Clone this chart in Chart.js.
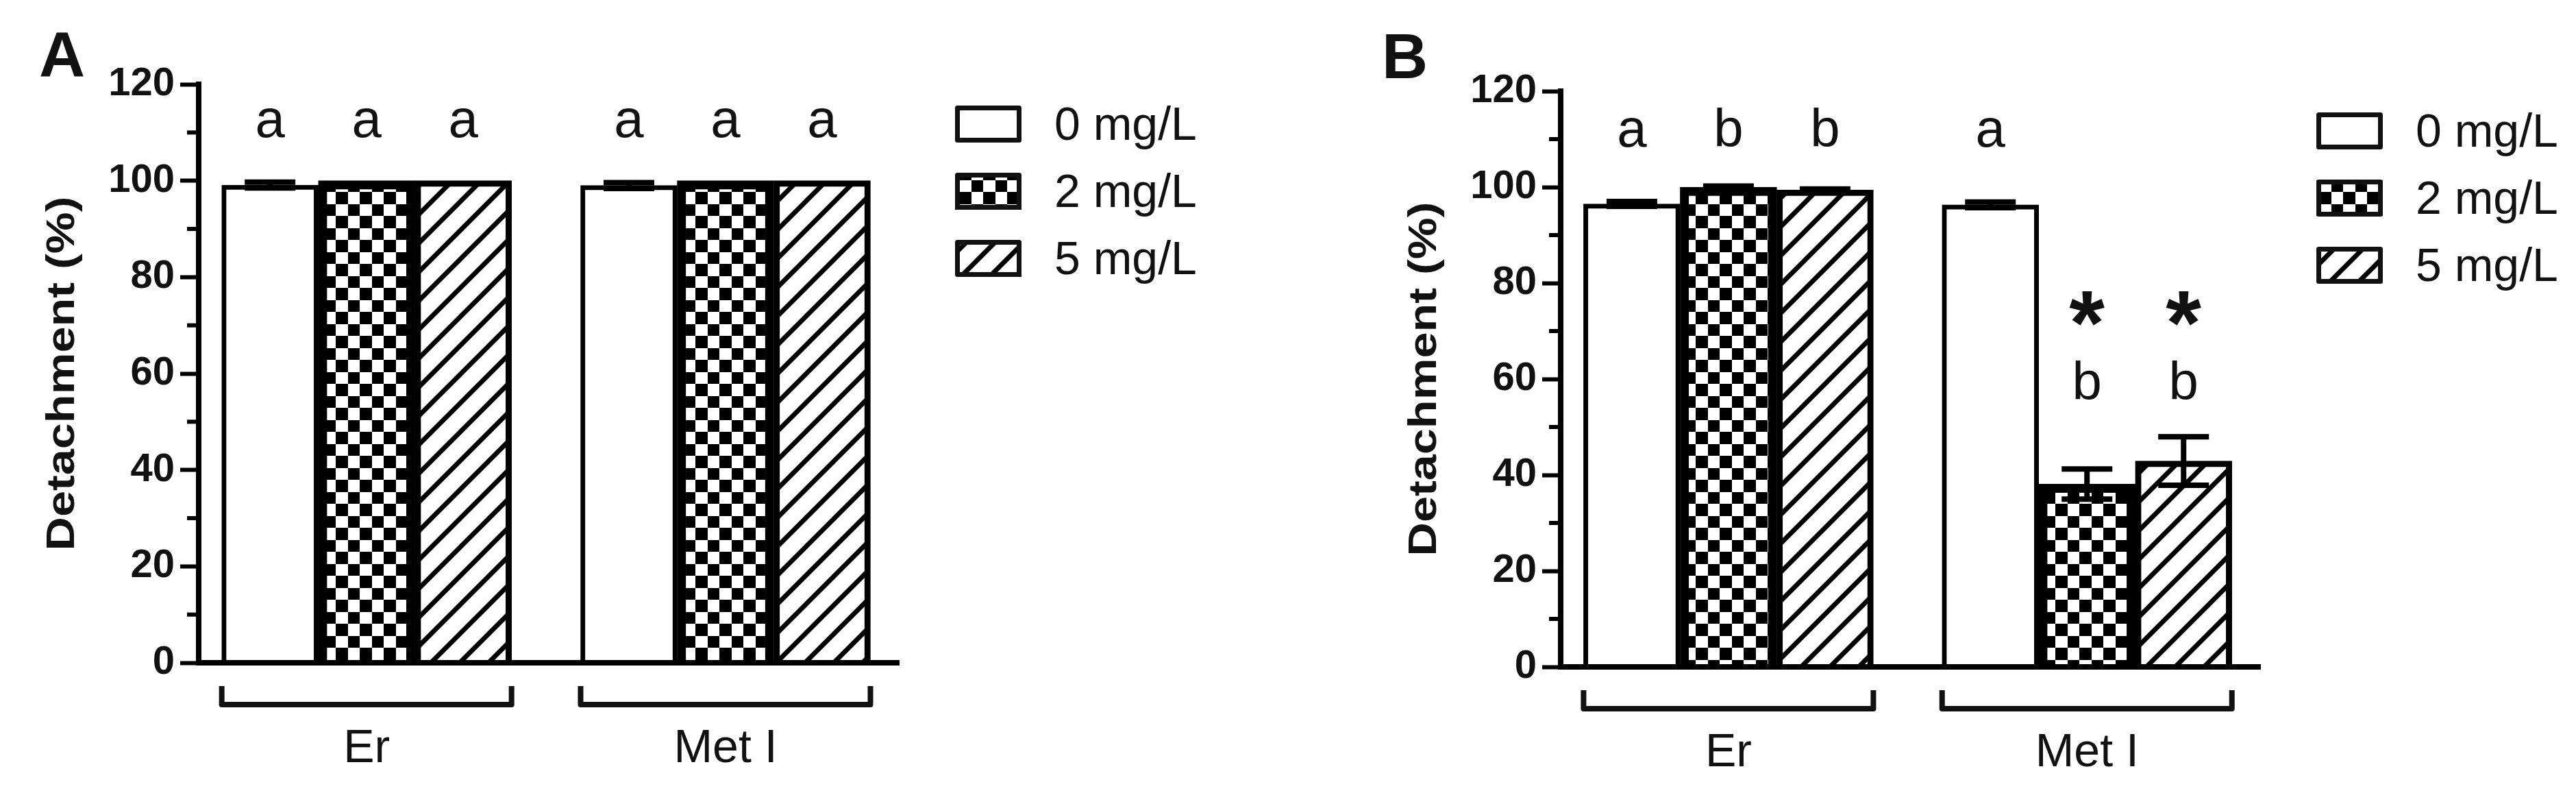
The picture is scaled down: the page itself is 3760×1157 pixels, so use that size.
<!DOCTYPE html>
<html>
<head>
<meta charset="utf-8">
<script src="https://cdn.jsdelivr.net/npm/chart.js@4.4.1/dist/chart.umd.min.js"></script>
<style>
    html, body { margin: 0; padding: 0; background: #fff; }
    #wrap { position: relative; width: 3760px; height: 1157px; }
    canvas { position: absolute; top: 0; }
    #chartA { left: 0; }
    #chartB { left: 1880px; }
</style>
</head>
<body>
<div id="wrap">
    <canvas id="chartA" width="1880" height="1157"></canvas>
    <canvas id="chartB" width="1880" height="1157"></canvas>
</div>
<script>
// categories and series
var groups = ['Er', 'Met I'];
var doses = ['0 mg/L', '2 mg/L', '5 mg/L'];
var yMin = 0, yMax = 120, yStep = 20, yMinorStep = 10;
var yTitle = 'Detachment (%)';

// panel A: mean and SEM per dose, over groups
var meanA0 = [99.1, 99.0];
var meanA2 = [100.0, 100.0];
var meanA5 = [100.0, 100.0];
var semA0 = [0.6, 0.6];
var semA2 = [0, 0];
var semA5 = [0, 0];
var lettersA = [['a', 'a'], ['a', 'a'], ['a', 'a']];
var letterYA = [[109, 109], [109, 109], [109, 109]];

// panel B
var meanB0 = [96.5, 96.3];
var meanB2 = [100.0, 38.1];
var meanB5 = [99.4, 42.9];
var semB0 = [0.5, 0.6];
var semB2 = [0.2, 3.15];
var semB5 = [0.2, 5.05];
var lettersB = [['a', 'a'], ['b', 'b'], ['b', 'b']];
var letterYB = [[108.5, 108.5], [108.5, 55.7], [108.5, 55.7]];
var starsB = [['', ''], ['', '*'], ['', '*']];
var starYB = 74.7;

var FONT = '"Liberation Sans", Arial, Helvetica, sans-serif';
Chart.defaults.font.family = FONT;
Chart.defaults.color = '#000';

// fill patterns
var helperCtx = document.createElement('canvas').getContext('2d');

function checkerPattern() {
    var c = document.createElement('canvas');
    c.width = 35; c.height = 35;
    var g = c.getContext('2d');
    g.fillStyle = '#fff';
    g.fillRect(0, 0, 35, 35);
    g.fillStyle = '#000';
    g.fillRect(0, 0, 18, 18);
    g.fillRect(18, 18, 17, 17);
    return helperCtx.createPattern(c, 'repeat');
}

function hatchPattern() {
    var T = 42;
    var c = document.createElement('canvas');
    c.width = T; c.height = T;
    var g = c.getContext('2d');
    g.fillStyle = '#fff';
    g.fillRect(0, 0, T, T);
    g.strokeStyle = '#000';
    g.lineWidth = 7;
    g.beginPath();
    g.moveTo(0, T); g.lineTo(T, 0);
    g.moveTo(-T / 2, T / 2); g.lineTo(T / 2, -T / 2);
    g.moveTo(T / 2, 3 * T / 2); g.lineTo(3 * T / 2, T / 2);
    g.stroke();
    return helperCtx.createPattern(c, 'repeat');
}

var fills = ['#fff', checkerPattern(), hatchPattern()];
var borders = [7, 13, 9];

function makeDatasets(means) {
    return doses.map(function (d, i) {
        return {
            label: d,
            data: means[i].map(function (v, j) { return { x: j, y: v }; }),
            backgroundColor: fills[i],
            borderColor: '#000',
            borderWidth: borders[i],
            barThickness: 141
        };
    });
}

// annotations drawn on top: minor ticks, error bars, letters, brackets, legend
var decor = {
    id: 'decor',
    afterDraw: function (chart, args, o) {
        var ctx = chart.ctx, area = chart.chartArea, ys = chart.scales.y;
        ctx.save();

        // minor ticks
        ctx.strokeStyle = '#000';
        ctx.lineWidth = 6;
        ys.ticks.forEach(function (t) {
            var v = t.value + yMinorStep;
            if (v >= yMax) return;
            var py = ys.getPixelForValue(v);
            ctx.beginPath();
            ctx.moveTo(area.left - 17, py);
            ctx.lineTo(area.left, py);
            ctx.stroke();
        });

        // error bars
        ctx.lineWidth = 8;
        ctx.lineCap = 'butt';
        chart.data.datasets.forEach(function (ds, d) {
            var meta = chart.getDatasetMeta(d);
            meta.data.forEach(function (el, j) {
                var s = o.sem[d][j];
                if (!s) return;
                var m = ds.data[j].y;
                var yt = ys.getPixelForValue(m + s), yb = ys.getPixelForValue(m - s);
                ctx.beginPath();
                ctx.moveTo(el.x, yt); ctx.lineTo(el.x, yb);
                ctx.moveTo(el.x - 37, yt); ctx.lineTo(el.x + 37, yt);
                ctx.moveTo(el.x - 37, yb); ctx.lineTo(el.x + 37, yb);
                ctx.stroke();
            });
        });

        // significance letters and stars
        ctx.fillStyle = '#111';
        ctx.textAlign = 'center';
        ctx.textBaseline = 'alphabetic';
        chart.data.datasets.forEach(function (ds, d) {
            var meta = chart.getDatasetMeta(d);
            meta.data.forEach(function (el, j) {
                ctx.font = '78px ' + FONT;
                ctx.fillText(o.letters[d][j], el.x, ys.getPixelForValue(o.letterY[d][j]));
                if (o.stars && o.stars[d][j]) {
                    ctx.font = 'bold 133px ' + FONT;
                    var m = ctx.measureText(o.stars[d][j]);
                    var cy = ys.getPixelForValue(o.starY);
                    var off = (m.actualBoundingBoxAscent - m.actualBoundingBoxDescent) / 2;
                    ctx.fillText(o.stars[d][j], el.x, cy + off);
                }
            });
        });

        // group brackets and labels
        var first = chart.getDatasetMeta(0), last = chart.getDatasetMeta(chart.data.datasets.length - 1);
        ctx.lineWidth = 8;
        ctx.lineJoin = 'round';
        ctx.strokeStyle = '#111';
        groups.forEach(function (g, j) {
            var a = first.data[j], b = last.data[j];
            var x1 = a.x - a.width / 2, x2 = b.x + b.width / 2;
            var by = area.bottom + 61;
            ctx.beginPath();
            ctx.moveTo(x1, by - 27); ctx.lineTo(x1, by); ctx.lineTo(x2, by); ctx.lineTo(x2, by - 27);
            ctx.stroke();
            ctx.font = '68px ' + FONT;
            ctx.textAlign = 'center';
            ctx.fillText(g, (x1 + x2) / 2, area.bottom + 145);
        });

        // legend
        chart.data.datasets.forEach(function (ds, d) {
            var bx = area.right + 82, by = area.top + 31 + d * 98;
            ctx.fillStyle = ds.backgroundColor;
            ctx.fillRect(bx, by, 97, 54);
            ctx.strokeStyle = '#111';
            ctx.lineWidth = 7;
            ctx.strokeRect(bx + 3.5, by + 3.5, 90, 47);
            ctx.fillStyle = '#111';
            ctx.font = '68px ' + FONT;
            ctx.textAlign = 'left';
            ctx.fillText(ds.label, bx + 145, by + 50);
        });

        // panel letter
        ctx.font = 'bold 93px ' + FONT;
        ctx.textAlign = 'left';
        ctx.fillText(o.panel, o.panelX, o.panelY);

        // y axis title, stretched along its length
        ctx.translate(area.left - 198, (area.top + area.bottom) / 2);
        ctx.rotate(-Math.PI / 2);
        ctx.scale(1.2, 1);
        ctx.font = 'bold 57px ' + FONT;
        ctx.textAlign = 'center';
        ctx.textBaseline = 'middle';
        ctx.fillText(yTitle, 0, 0);

        ctx.restore();
    }
};

function makeChart(id, means, decorOpts, box) {
    var ctx = document.getElementById(id).getContext('2d');
    return new Chart(ctx, {
        type: 'bar',
        data: { datasets: makeDatasets(means) },
        options: {
            responsive: false,
            animation: false,
            events: [],
            devicePixelRatio: 1,
            layout: { padding: { left: 0, top: box.top, right: box.right, bottom: 0 } },
            plugins: {
                legend: { display: false },
                tooltip: { enabled: false },
                decor: decorOpts
            },
            scales: {
                x: {
                    type: 'linear',
                    bounds: 'data',
                    offset: false,
                    min: -0.468,
                    max: 1.483,
                    ticks: { display: false, stepSize: 1, includeBounds: false },
                    grid: { display: false, offset: false },
                    border: { display: true, color: '#000', width: 8, z: 1 },
                    afterFit: function (s) { s.height = box.xHeight; }
                },
                y: {
                    min: yMin,
                    max: yMax,
                    ticks: {
                        stepSize: yStep,
                        padding: 8,
                        color: '#111',
                        font: { size: 58, weight: 'bold' }
                    },
                    grid: {
                        drawOnChartArea: false,
                        drawTicks: true,
                        tickLength: 27,
                        tickWidth: 6,
                        tickColor: '#000'
                    },
                    border: { display: true, color: '#000', width: 8, z: 1 },
                    afterFit: function (s) { s.width = box.yWidth; }
                }
            }
        },
        plugins: [decor]
    });
}

var chartA = makeChart('chartA', [meanA0, meanA2, meanA5], {
    sem: [semA0, semA2, semA5],
    letters: lettersA,
    letterY: letterYA,
    panel: 'A', panelX: 57, panelY: 111
}, { top: 123, right: 568, xHeight: 190, yWidth: 290 });

var chartB = makeChart('chartB', [meanB0, meanB2, meanB5], {
    sem: [semB0, semB2, semB5],
    letters: lettersB,
    letterY: letterYB,
    stars: starsB,
    starY: starYB,
    panel: 'B', panelX: 137, panelY: 114
}, { top: 133, right: 461, xHeight: 184, yWidth: 398 });
</script>
</body>
</html>
